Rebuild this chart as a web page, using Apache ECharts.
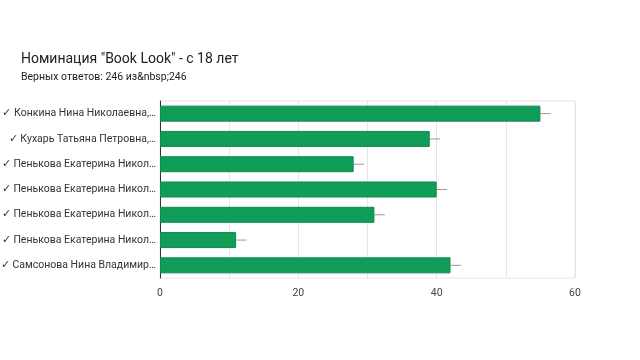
<!DOCTYPE html>
<html><head><meta charset="utf-8">
<script src="https://cdn.jsdelivr.net/npm/echarts@6/dist/echarts.min.js"></script>
<style>html,body{margin:0;padding:0;background:#fff}#c{width:640px;height:360px}</style>
</head><body><div id="c"></div>
<script>
const titleText = 'Номинация "Book Look" - с 18 лет';
const subtitleText = 'Верных ответов: 246 из&nbsp;246';
const categories = [
  '✓ Конкина Нина Николаевна,…',
  '✓ Кухарь Татьяна Петровна,…',
  '✓ Пенькова Екатерина Никол…',
  '✓ Пенькова Екатерина Никол…',
  '✓ Пенькова Екатерина Никол…',
  '✓ Пенькова Екатерина Никол…',
  '✓ Самсонова Нина Владимир…'
];
const values = [55, 39, 28, 40, 31, 11, 42];
const whisker = [1.5, 1.5, 1.5, 1.5, 1.5, 1.5, 1.5];
const xTicks = [0, 20, 40, 60];

const chart = echarts.init(document.getElementById('c'));
chart.setOption({
  animation: false,
  textStyle: { fontFamily: 'Roboto, Arial, sans-serif' },
  title: [
    { text: titleText, left: 21, top: 52, padding: 0, textStyle: { fontSize: 14, fontWeight: 'normal', color: '#202124', fontFamily: 'Roboto' } },
    { text: subtitleText, left: 21, top: 72, padding: 0, textStyle: { fontSize: 10.5, fontWeight: 'normal', color: '#202124', fontFamily: 'Roboto' } }
  ],
  grid: { left: 160, right: 65, top: 101, bottom: 82, show: true, borderColor: '#e6e6e6', borderWidth: 1, containLabel: false, outerBoundsMode: 'none' },
  xAxis: {
    type: 'value', min: 0, max: 60, interval: 10,
    axisLine: { show: false }, axisTick: { show: false },
    splitLine: { lineStyle: { color: '#e6e6e6' } },
    axisLabel: { color: '#444', fontSize: 10.5, margin: 10, formatter: v => xTicks.includes(v) ? String(v) : '' }
  },
  yAxis: {
    type: 'category', data: categories, inverse: true,
    axisLine: { show: true, lineStyle: { color: '#333', width: 1 } },
    axisTick: { show: false },
    axisLabel: { color: '#333', fontSize: 10.5, margin: 4 }
  },
  series: [
    {
      type: 'custom', z: 1,
      renderItem: (params, api) => {
        const v = api.value(0), i = api.value(1), e = api.value(2);
        const p1 = api.coord([v, i]);
        const p2 = api.coord([v + e, i]);
        return { type: 'line', shape: { x1: p1[0], y1: p1[1], x2: p2[0], y2: p2[1] }, style: { stroke: '#999', lineWidth: 1 } };
      },
      data: values.map((v, i) => [v, i, whisker[i]])
    },
    {
      type: 'bar', z: 2, barWidth: 16, data: values,
      itemStyle: { color: '#0f9d58', borderColor: '#118a4e', borderWidth: 1 }
    }
  ]
});
</script></body></html>
